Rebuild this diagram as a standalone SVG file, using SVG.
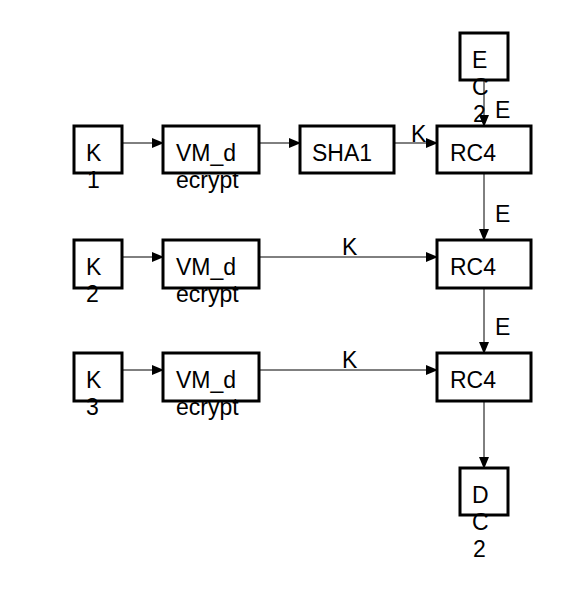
<svg xmlns="http://www.w3.org/2000/svg" width="569" height="595" viewBox="0 0 569 595">
<style>
.b{fill:#fff;stroke:#000;stroke-width:3}
.t{font-family:"Liberation Sans",Arial,sans-serif;font-size:23px;fill:#000}
.c{stroke:#000;stroke-width:1;fill:none}
</style>
<defs>
<marker id="a" markerWidth="12" markerHeight="10" refX="11" refY="5" orient="auto" markerUnits="userSpaceOnUse">
<path d="M0,0 L12,5 L0,10 Z" fill="#000"/>
</marker>
</defs>
<rect width="569" height="595" fill="#fff"/>
<g id="connectors">
<line class="c" x1="122" y1="143" x2="163" y2="143" marker-end="url(#a)"/>
<line class="c" x1="259" y1="143" x2="300" y2="143" marker-end="url(#a)"/>
<line class="c" x1="394" y1="143" x2="437" y2="143" marker-end="url(#a)"/>
<line class="c" x1="122" y1="257" x2="163" y2="257" marker-end="url(#a)"/>
<line class="c" x1="259" y1="257" x2="437" y2="257" marker-end="url(#a)"/>
<line class="c" x1="122" y1="370" x2="163" y2="370" marker-end="url(#a)"/>
<line class="c" x1="259" y1="370" x2="437" y2="370" marker-end="url(#a)"/>
<line class="c" x1="484" y1="80" x2="484" y2="126" marker-end="url(#a)"/>
<line class="c" x1="484" y1="173" x2="484" y2="240" marker-end="url(#a)"/>
<line class="c" x1="484" y1="288" x2="484" y2="353" marker-end="url(#a)"/>
<line class="c" x1="484" y1="401" x2="484" y2="468" marker-end="url(#a)"/>
<text class="t" x="411" y="142">K</text>
<text class="t" x="342" y="255">K</text>
<text class="t" x="342" y="368">K</text>
<text class="t" x="495" y="118">E</text>
<text class="t" x="495" y="222">E</text>
<text class="t" x="495" y="335">E</text>
</g>
<g id="K1"><rect class="b" x="74" y="126" width="48" height="47"/><text class="t" x="86" y="161">K</text><text class="t" x="87" y="188">1</text></g>
<g id="VM1"><rect class="b" x="163" y="126" width="96" height="47"/><text class="t" x="176" y="161">VM_d</text><text class="t" x="176" y="188">ecrypt</text></g>
<g id="SHA1"><rect class="b" x="300" y="126" width="94" height="47"/><text class="t" x="312" y="161">SHA1</text></g>
<g id="RC4a"><rect class="b" x="437" y="126" width="94" height="47"/><text class="t" x="450" y="161">RC4</text></g>
<g id="EC2"><rect class="b" x="460" y="33" width="48" height="47"/><text class="t" x="472" y="68">E</text><text class="t" x="472" y="95">C</text><text class="t" x="473" y="122">2</text></g>
<g id="K2"><rect class="b" x="74" y="240" width="48" height="48"/><text class="t" x="86" y="275">K</text><text class="t" x="86" y="302">2</text></g>
<g id="VM2"><rect class="b" x="163" y="240" width="96" height="48"/><text class="t" x="176" y="275">VM_d</text><text class="t" x="176" y="302">ecrypt</text></g>
<g id="RC4b"><rect class="b" x="437" y="240" width="94" height="48"/><text class="t" x="450" y="275">RC4</text></g>
<g id="K3"><rect class="b" x="74" y="353" width="48" height="48"/><text class="t" x="86" y="388">K</text><text class="t" x="86" y="415">3</text></g>
<g id="VM3"><rect class="b" x="163" y="353" width="96" height="48"/><text class="t" x="176" y="388">VM_d</text><text class="t" x="176" y="415">ecrypt</text></g>
<g id="RC4c"><rect class="b" x="437" y="353" width="94" height="48"/><text class="t" x="450" y="388">RC4</text></g>
<g id="DC2"><rect class="b" x="460" y="468" width="48" height="47"/><text class="t" x="472" y="503">D</text><text class="t" x="472" y="530">C</text><text class="t" x="473" y="557">2</text></g>
</svg>
